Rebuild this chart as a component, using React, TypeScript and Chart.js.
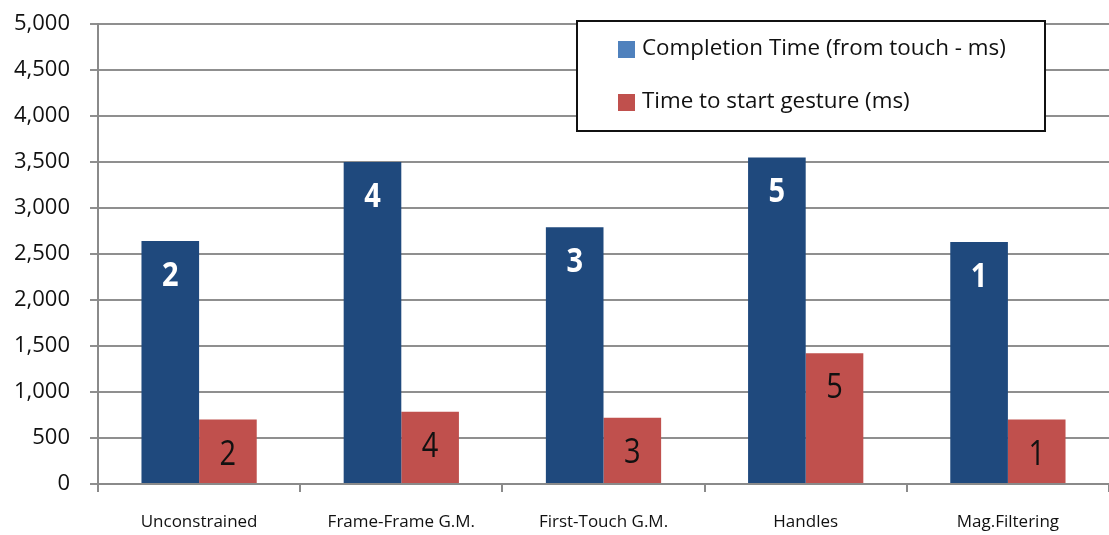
import React, { useEffect, useRef } from "react";
import { Chart, registerables } from "chart.js";

Chart.register(...registerables);

const categories = ["Unconstrained", "Frame-Frame G.M.", "First-Touch G.M.", "Handles", "Mag.Filtering"];
const completionTime = [2640, 3500, 2790, 3550, 2630];
const startTime = [700, 785, 720, 1420, 700];
const completionRank = ["2", "4", "3", "5", "1"];
const startRank = ["2", "4", "3", "5", "1"];
const seriesNames = ["Completion Time (from touch - ms)", "Time to start gesture (ms)"];
const yTicks = [0, 500, 1000, 1500, 2000, 2500, 3000, 3500, 4000, 4500, 5000];

const FONT = "'Open Sans', sans-serif";

const rankPlugin = {
  id: "rankLabels",
  afterDatasetsDraw(chart: any) {
    const ctx = chart.ctx;
    const ranks = [completionRank, startRank];
    chart.data.datasets.forEach((ds: any, di: number) => {
      const meta = chart.getDatasetMeta(di);
      meta.data.forEach((bar: any, i: number) => {
        ctx.save();
        ctx.translate(bar.x, bar.y + 35);
        ctx.scale(1, 1.2);
        ctx.font = (di === 0 ? "bold " : "") + "29px " + FONT;
        ctx.fillStyle = di === 0 ? "#ffffff" : "#111111";
        ctx.textAlign = "center";
        ctx.textBaseline = "middle";
        ctx.fillText(ranks[di][i], 0, 0);
        ctx.restore();
      });
    });
  },
};

const legendPlugin = {
  id: "boxLegend",
  afterDraw(chart: any) {
    const ctx = chart.ctx;
    const x0 = 577, y0 = 21, w = 468, h = 110;
    ctx.save();
    ctx.fillStyle = "#ffffff";
    ctx.fillRect(x0, y0, w, h);
    ctx.strokeStyle = "#111111";
    ctx.lineWidth = 2;
    ctx.strokeRect(x0, y0, w, h);
    const swatch = ["#4F81BD", "#C0504D"];
    const rowsY = [49, 102];
    chart.data.datasets.forEach((ds: any, i: number) => {
      ctx.fillStyle = swatch[i];
      ctx.fillRect(618, rowsY[i] - 8, 17, 17);
      ctx.fillStyle = "#111111";
      ctx.font = "22.4px " + FONT;
      ctx.textAlign = "left";
      ctx.textBaseline = "middle";
      ctx.fillText(ds.label, 642, rowsY[i]);
    });
    ctx.restore();
  },
};

export default function App() {
  const ref = useRef<HTMLCanvasElement>(null);
  useEffect(() => {
    const chart = new Chart(ref.current as HTMLCanvasElement, {
      type: "bar",
      data: {
        labels: categories,
        datasets: [
          { label: seriesNames[0], data: completionTime, backgroundColor: "#1F497D", categoryPercentage: 0.57, barPercentage: 1 },
          { label: seriesNames[1], data: startTime, backgroundColor: "#C0504D", categoryPercentage: 0.57, barPercentage: 1 },
        ],
      },
      options: {
        animation: false,
        responsive: false,
        layout: { padding: { top: 24, right: 0, left: 0, bottom: 0 } },
        plugins: { legend: { display: false }, tooltip: { enabled: false } },
        scales: {
          x: {
            grid: { drawOnChartArea: false, tickLength: 8, color: "#8a8a8a", lineWidth: 2, offset: true },
            border: { color: "#8a8a8a", width: 2 },
            ticks: { color: "#111111", font: { family: FONT, size: 17 }, padding: 20, maxRotation: 0 },
            afterFit: (s: any) => { s.height = 51; },
          },
          y: {
            min: 0,
            max: 5000,
            afterBuildTicks: (s: any) => { s.ticks = yTicks.map((v) => ({ value: v })); },
            grid: { color: "#8f8f8f", lineWidth: 2, tickLength: 8 },
            border: { color: "#8a8a8a", width: 2 },
            ticks: {
              color: "#111111",
              font: { family: FONT, size: 22, lineHeight: 0.3 },
              padding: 20,
              callback: (v: any) => Number(v).toLocaleString("en-US"),
            },
            afterFit: (s: any) => { s.width = 98; },
          },
        },
      },
      plugins: [rankPlugin, legendPlugin],
    });
    return () => chart.destroy();
  }, []);
  return (
    <div style={{ position: "absolute", left: 0, top: 0, width: 1109, height: 535, background: "#fff" }}>
      <canvas ref={ref} width={1109} height={535} />
    </div>
  );
}
